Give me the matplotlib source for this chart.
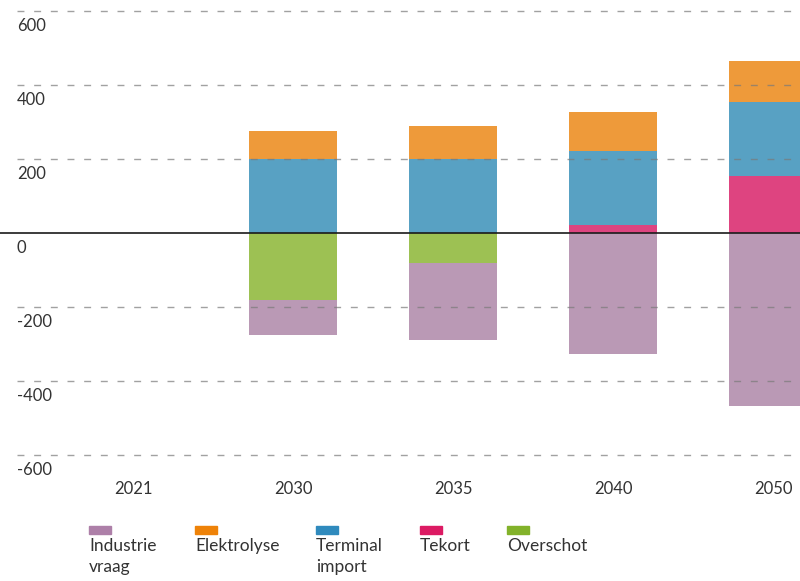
import numpy as np
import matplotlib
matplotlib.use('Agg')
import matplotlib.pyplot as plt
from matplotlib.patches import Rectangle

plt.rcParams['font.family'] = ['Lato', 'DejaVu Sans']

# data
years = ["2021", "2030", "2035", "2040", "2050"]
industrie = [0, -97, -207, -326, -467]
overschot = [0, -180, -81, 0, 0]
tekort = [0, 0, 0, 22, 155]
terminal = [0, 200, 200, 200, 200]
elektrolyse = [0, 76, 88, 104, 111]

legend_labels = ["Industrie\nvraag", "Elektrolyse", "Terminal\nimport", "Tekort", "Overschot"]
legend_colors = ['#AD7FA8', '#EE8208', '#2F8ABD', '#DC1A63', '#82B22A']
bar_colors = ['#BA99B5', '#EE9A3A', '#58A1C3', '#DE4480', '#9DC153']

x = np.arange(len(years))
w = 0.556

fig = plt.figure(figsize=(8, 5.81), dpi=100)
ax = fig.add_axes([0, 126 / 581, 1, 444 / 581])

# negative side: overschot closest to zero, industrie below
ax.bar(x, overschot, w, color=bar_colors[4], zorder=2)
ax.bar(x, industrie, w, bottom=overschot, color=bar_colors[0], zorder=2)
# positive side
ax.bar(x, tekort, w, color=bar_colors[3], zorder=2)
ax.bar(x, terminal, w, bottom=tekort, color=bar_colors[2], zorder=2)
bot = np.array(tekort) + np.array(terminal)
ax.bar(x, elektrolyse, w, bottom=bot, color=bar_colors[1], zorder=2)

ax.set_xlim(-0.83125, 4.16875)
ax.set_ylim(-600, 600)

for v in [600, 400, 200, -200, -400, -600]:
    ax.axhline(v, xmin=0.021, color='#7a7a7a', lw=1.0, dashes=(5, 7),
               alpha=0.7, zorder=3, clip_on=False)
ax.axhline(0, color='#1a1a1a', lw=1.2, zorder=4)

for v in [600, 400, 200, 0, -200, -400, -600]:
    ax.annotate(str(v), xy=(0.021, v), xycoords=ax.get_yaxis_transform(),
                xytext=(0, -5), textcoords='offset points', va='top', ha='left',
                fontsize=12, color='#333333', annotation_clip=False)

ax.set_yticks([])
ax.set_xticks(x)
ax.set_xticklabels(years, fontsize=12, color='#333333')
ax.tick_params(axis='x', length=0, pad=19)
for s in ax.spines.values():
    s.set_visible(False)

# legend: small swatch above label
leg_x = [89, 195, 316, 420, 507]
for lx, lab, col in zip(leg_x, legend_labels, legend_colors):
    fig.patches.append(Rectangle((lx / 800, 1 - 534 / 581), 22 / 800, 8 / 581,
                                 transform=fig.transFigure, color=col))
    fig.text(lx / 800, 1 - 538 / 581, lab, ha='left', va='top', fontsize=12.5,
             color='#333333', linespacing=1.4)

fig.savefig('out.png', dpi=100)
